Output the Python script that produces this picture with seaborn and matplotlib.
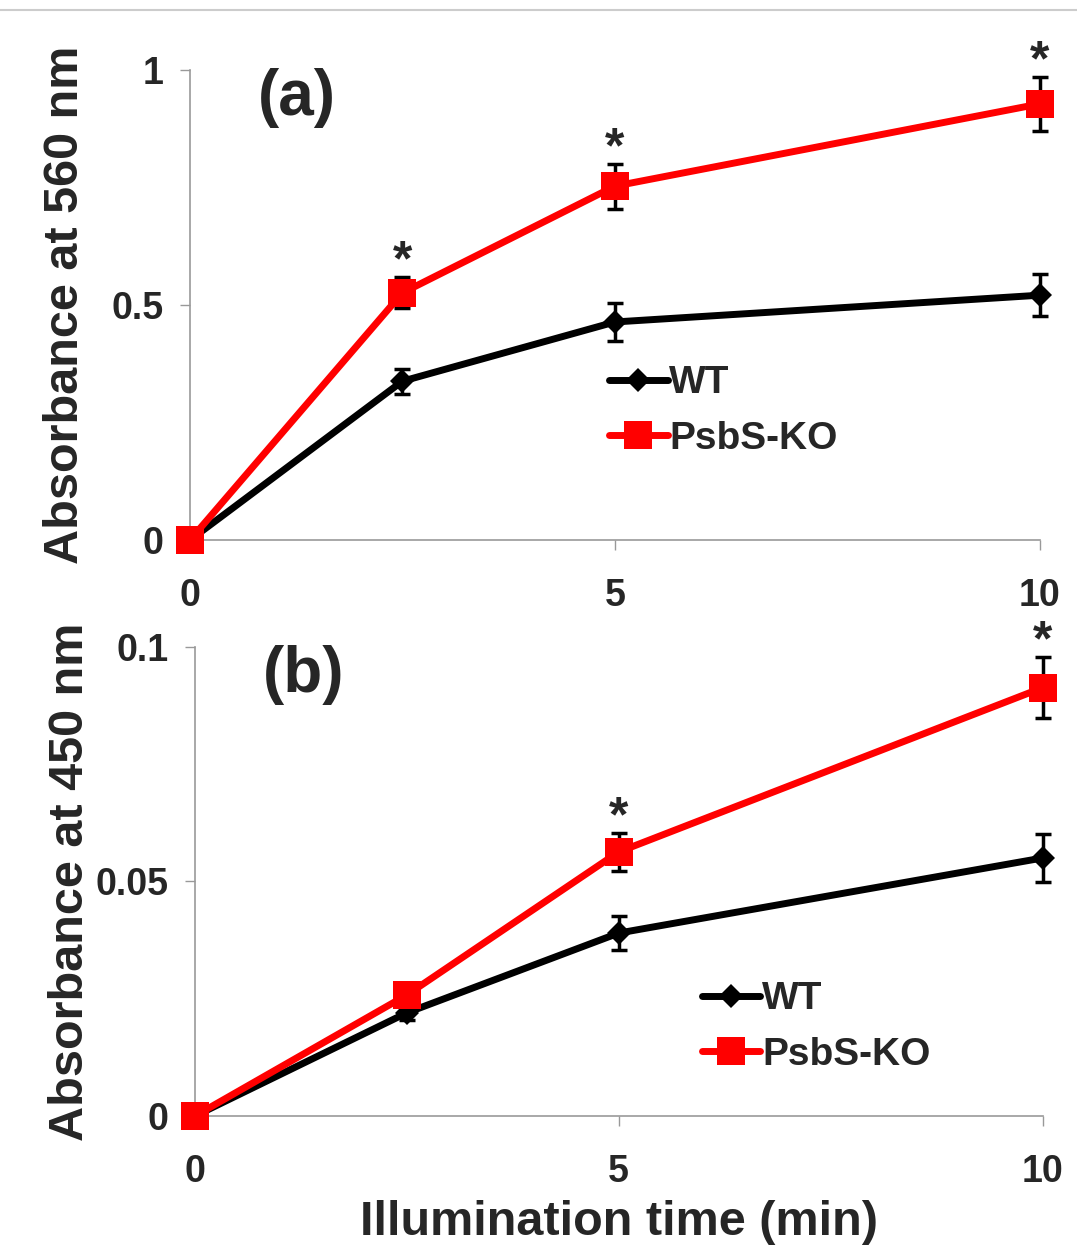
import matplotlib
matplotlib.use("Agg")
import matplotlib.pyplot as plt
from matplotlib.lines import Line2D
import seaborn as sns
import pandas as pd

# data
time_min = [0, 2.5, 5, 10]
groups = ["WT", "PsbS-KO"]

a560_wt = [0, 0.338, 0.464, 0.521]
a560_wt_err = [0, 0.027, 0.040, 0.045]
a560_ko = [0, 0.526, 0.753, 0.928]
a560_ko_err = [0, 0.033, 0.048, 0.057]
a560_star = [False, True, True, True]

a450_wt = [0, 0.022, 0.039, 0.055]
a450_wt_err = [0, 0.0015, 0.0037, 0.0052]
a450_ko = [0, 0.0258, 0.0563, 0.0913]
a450_ko_err = [0, 0.001, 0.004, 0.0065]
a450_star = [False, False, True, True]

sns.set_theme(style="white")
plt.rcParams["font.family"] = ["Liberation Sans", "DejaVu Sans"]
plt.rcParams["font.weight"] = "bold"

colors = {"WT": "black", "PsbS-KO": "#ff0000"}
markers = {"WT": "D", "PsbS-KO": "s"}
msizes = {"WT": 12, "PsbS-KO": 20}

fig = plt.figure(figsize=(10.77, 12.51), dpi=100)
ax_a = fig.add_axes([0.1764, 0.5683, 0.789, 0.3757])
ax_b = fig.add_axes([0.181, 0.1079, 0.787, 0.375])

panels = [
    (ax_a, a560_wt, a560_wt_err, a560_ko, a560_ko_err, a560_star, 1.0, [0, 0.5, 1], ["0", "0.5", "1"],
     "Absorbance at 560 nm", "(a)", (0.475, 0.405)),
    (ax_b, a450_wt, a450_wt_err, a450_ko, a450_ko_err, a450_star, 0.1, [0, 0.05, 0.1], ["0", "0.05", "0.1"],
     "Absorbance at 450 nm", "(b)", (0.58, 0.32)),
]

for ax, wt, wt_err, ko, ko_err, stars, ymax, yt, ytl, ylab, tag, leg_pos in panels:
    df = pd.DataFrame({
        "time": time_min * 2,
        "abs": wt + ko,
        "group": ["WT"] * len(time_min) + ["PsbS-KO"] * len(time_min),
    })
    # error bars first (black), under the markers
    for vals, errs in [(wt, wt_err), (ko, ko_err)]:
        ax.errorbar(time_min, vals, yerr=errs, fmt="none", ecolor="black",
                    elinewidth=2.5, capsize=6, capthick=2.5, zorder=2, clip_on=False)
    for g in groups:
        sub = df[df["group"] == g]
        sns.lineplot(data=sub, x="time", y="abs", ax=ax, color=colors[g],
                     marker=markers[g], markersize=msizes[g], markeredgewidth=0,
                     linewidth=5, label=g, zorder=3, clip_on=False)
    # significance asterisks
    for t, v, e, s in zip(time_min, ko, ko_err, stars):
        if s:
            ax.annotate("*", xy=(t, v + e), xytext=(0, -6), textcoords="offset points",
                        ha="center", va="bottom", fontsize=36, fontweight="bold",
                        annotation_clip=False)

    ax.set_xlim(0, 10)
    ax.set_ylim(0, ymax)
    ax.set_xticks([0, 5, 10])
    ax.set_xticklabels(["0", "5", "10"], fontsize=27, fontweight="bold")
    ax.set_yticks(yt)
    ax.set_yticklabels(ytl, fontsize=27, fontweight="bold")
    ax.tick_params(axis="x", direction="out", length=7, width=1, color="#999999", pad=20, bottom=True)
    ax.tick_params(axis="y", direction="out", length=7, width=1, color="#999999", pad=12, left=True)
    for sp in ["top", "right"]:
        ax.spines[sp].set_visible(False)
    for sp in ["left", "bottom"]:
        ax.spines[sp].set_color("#999999")
        ax.spines[sp].set_linewidth(1.2)
    ax.set_ylabel(ylab, fontsize=35, fontweight="bold")
    ax.yaxis.set_label_coords(-0.12, 0.5)
    ax.set_xlabel("")
    ax.text(0.08, 1.005, tag, transform=ax.transAxes, fontsize=46,
            fontweight="bold", va="top", ha="left")
    ax.legend(loc="upper left", bbox_to_anchor=leg_pos, frameon=False,
              prop={"size": 28, "weight": "bold"}, handlelength=1.5, handletextpad=0.05,
              labelspacing=0.5, borderaxespad=0)

ax_b.set_xlabel("Illumination time (min)", fontsize=35, fontweight="bold")
ax_b.xaxis.set_label_coords(0.5, -0.18)

# thin grey rule along the top edge
fig.add_artist(Line2D([0, 1], [0.992, 0.992], transform=fig.transFigure, color="#cccccc", linewidth=1.5))

fig.savefig("out.png", dpi=100, facecolor="white")
